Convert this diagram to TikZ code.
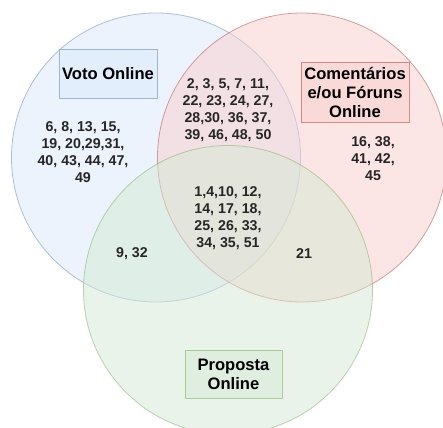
\documentclass[tikz,border=0pt]{standalone}
\usepackage{fontspec}
\setmainfont{Liberation Sans}
\usetikzlibrary{positioning,calc}

\definecolor{voto}{HTML}{DAE8FC}
\definecolor{votoline}{HTML}{6C8EBF}
\definecolor{coment}{HTML}{F8CECC}
\definecolor{comentline}{HTML}{B85450}
\definecolor{prop}{HTML}{D5E8D4}
\definecolor{propline}{HTML}{82B366}

\begin{document}
\begin{tikzpicture}[x=1pt, y=-1pt,
    conjunto/.style={circle, minimum size=2*\raio pt, inner sep=0pt, fill opacity=0.5, draw opacity=0.55, line width=0.8pt},
    rotulo/.style={rectangle, inner sep=0pt, align=center, font=\fontsize{16.6}{19}\selectfont\bfseries, fill opacity=0.5, draw opacity=0.6, text opacity=1, line width=0.8pt},
    numeros/.style={inner sep=0pt, align=center, font=\fontsize{14.2}{16.8}\selectfont\bfseries, text=black!85}]
                    \useasboundingbox (0, 0) rectangle (443, 427);
                    \def\raio{144.5} % Define the radius of the sets
                    \coordinate (V) at (156, 157.5);
                    \coordinate (C) at (302, 157.5);
                    \coordinate (P) at (228, 290);

                    \node[conjunto, fill=voto, draw=votoline] (votoC) at (V) {};
                    \node[conjunto, fill=coment, draw=comentline] (comC) at (C) {};
                    \node[conjunto, fill=prop, draw=propline] (propC) at (P) {};

                    \node[rotulo, fill=voto, draw=votoline, minimum width=98, minimum height=49]
                    (voto) at (108, 73.5) {Voto Online};
                    \node[rotulo, fill=coment, draw=comentline, minimum width=108, minimum height=60]
                    (coment) at (355, 92) {Comentários\\e/ou Fóruns\\Online};
                    \node[rotulo, fill=prop, draw=propline, minimum width=97, minimum height=48]
                    (prop) at (233.5, 374) {Proposta\\Online};

                    \node[numeros] (sv) at (83, 152)
                    {6, 8, 13, 15,\\19, 20,29,31,\\40, 43, 44, 47,\\49};
                    \node[numeros] (sc) at (373, 158.5)
                    {16, 38,\\41, 42,\\45};
                    \node[numeros] (vc) at (228, 110)
                    {2, 3, 5, 7, 11,\\22, 23, 24, 27,\\28,30, 36, 37,\\39, 46, 48, 50};
                    \node[numeros] (vcp) at (228, 218)
                    {1,4,10, 12,\\14, 17, 18,\\25, 26, 33,\\34, 35, 51};
                    \node[numeros] (vp) at (132, 254) {9, 32};
                    \node[numeros] (cp) at (304, 254) {21};
                \end{tikzpicture}
\end{document}
